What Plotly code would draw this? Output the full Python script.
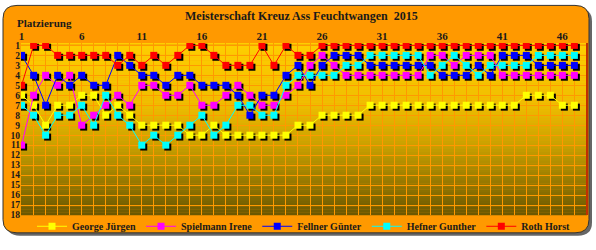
import plotly.graph_objects as go

# ---------------- data ----------------
races = list(range(1, 48))
x_tick_vals = [1, 6, 11, 16, 21, 26, 31, 36, 41, 46]
y_tick_vals = list(range(1, 19))

names = ["George Jürgen", "Spielmann Irene", "Fellner Günter", "Hefner Gunther", "Roth Horst"]
colors = ["#FFFF00", "#FF00FF", "#0000FF", "#00FFFF", "#FF0000"]

george = [6, 7, 9, 7, 7, 6, 6, 8, 7, 8, 9, 9, 9, 9, 10,
          10, 9, 10, 10, 10, 10, 10, 10, 9, 9, 8, 8, 8, 8, 7, 7,
          7, 7, 7, 7, 7, 7, 7, 7, 7, 7, 7, 6, 6, 6, 7, 7]
spielmann = [11, 6, 4, 5, 4, 9, 8, 7, 6, 7, 5, 5, 6, 6, 5,
             7, 7, 6, 5, 6, 7, 7, 6, 5, 3, 2, 3, 4, 4, 4, 4,
             4, 4, 4, 2, 2, 3, 2, 2, 2, 4, 4, 4, 4, 4, 4, 4]
fellner = [2, 4, 7, 4, 5, 4, 5, 5, 2, 3, 4, 4, 5, 4, 4,
           5, 5, 5, 6, 8, 6, 6, 4, 3, 5, 3, 2, 2, 2, 3, 3,
           3, 3, 3, 3, 4, 4, 4, 3, 4, 2, 2, 2, 3, 3, 3, 3]
hefner = [7, 8, 10, 8, 8, 7, 9, 6, 8, 9, 11, 10, 11, 10, 9,
          8, 10, 9, 7, 7, 8, 8, 5, 4, 4, 4, 4, 3, 3, 2, 2,
          2, 2, 2, 4, 3, 2, 3, 4, 3, 3, 3, 3, 2, 2, 2, 2]
roth = [5, 1, 1, 2, 2, 2, 2, 2, 3, 2, 3, 2, 3, 2, 1,
        1, 2, 3, 3, 3, 1, 3, 1, 2, 2, 1, 1, 1, 1, 1, 1,
        1, 1, 1, 1, 1, 1, 1, 1, 1, 1, 1, 1, 1, 1, 1, 1]
series = [george, spielmann, fellner, hefner, roth]

# ---------------- geometry / style ----------------
W, H = 596, 250
ML, MR, MT, MB = 21, 9, 43, 24
PW, PH = W - ML - MR, H - MT - MB
xr = [0.95, 48.05]
yr = [18, 0.76]
ppx = PW / (xr[1] - xr[0])
ppy = PH / (yr[0] - yr[1])
SH = 2  # shadow offset in px
dx, dy = SH / ppx, SH / ppy

FONT = "Liberation Serif, Times New Roman, serif"
TXT = "#1a1a1a"
GRID = "#FF9900"


def px(x):
    return (x - ML) / PW


def py(y):
    return (H - MB - y) / PH


def rounded(x0, y0, x1, y1, r):
    pts = [
        f"M {px(x0 + r)} {py(y0)}",
        f"L {px(x1 - r)} {py(y0)}",
        f"Q {px(x1)} {py(y0)} {px(x1)} {py(y0 + r)}",
        f"L {px(x1)} {py(y1 - r)}",
        f"Q {px(x1)} {py(y1)} {px(x1 - r)} {py(y1)}",
        f"L {px(x0 + r)} {py(y1)}",
        f"Q {px(x0)} {py(y1)} {px(x0)} {py(y1 - r)}",
        f"L {px(x0)} {py(y0 + r)}",
        f"Q {px(x0)} {py(y0)} {px(x0 + r)} {py(y0)}",
        "Z",
    ]
    return " ".join(pts)


shapes = []
# outer card shadow + card
shapes.append(dict(type="path", xref="paper", yref="paper", path=rounded(6, 6, 592, 248, 14),
                   fillcolor="#666666", line=dict(width=0), layer="below"))
shapes.append(dict(type="path", xref="paper", yref="paper", path=rounded(3, 3, 589, 245, 14),
                   fillcolor="#FF9900", line=dict(color="#333333", width=1), layer="below"))

# vertical gradient of the plot area
stops = [(0.0, (255, 206, 0)), (0.35, (240, 190, 0)), (0.6, (200, 160, 0)), (1.0, (105, 86, 0))]


def grad(t):
    for (t0, c0), (t1, c1) in zip(stops[:-1], stops[1:]):
        if t0 <= t <= t1:
            f = (t - t0) / (t1 - t0)
            return "rgb(%d,%d,%d)" % tuple(round(a + (b - a) * f) for a, b in zip(c0, c1))
    return "rgb(%d,%d,%d)" % stops[-1][1]


N = 60
for i in range(N):
    t = (i + 0.5) / N
    shapes.append(dict(type="rect", xref="paper", yref="paper", x0=0, x1=1,
                       y0=1 - (i + 1) / N - 0.002, y1=1 - i / N,
                       fillcolor=grad(t), line=dict(width=0), layer="below"))

# dark red line on rank 1 and right border
shapes.append(dict(type="line", xref="paper", yref="y", x0=0, x1=1, y0=1, y1=1,
                   line=dict(color="#B00000", width=1), layer="between"))
shapes.append(dict(type="line", xref="paper", yref="paper", x0=1, x1=1, y0=0, y1=1,
                   line=dict(color="#C03000", width=2), layer="above"))

fig = go.Figure()

# shadows
for s in series:
    fig.add_trace(go.Scatter(x=races, y=s, mode="markers", xaxis="x2", yaxis="y2",
                             marker=dict(symbol="square", size=7, color="#000000", line=dict(width=0)),
                             showlegend=False, hoverinfo="skip"))
# series
for n, c, s in zip(names, colors, series):
    fig.add_trace(go.Scatter(x=races, y=s, mode="lines+markers", name=n, xaxis="x3", yaxis="y3",
                             line=dict(color=c, width=1),
                             marker=dict(symbol="square", size=7, color=c, line=dict(width=0))))

xtickfont = dict(family=FONT, size=11, color=TXT, weight="bold")
ytickfont = dict(family=FONT, size=9.5, color=TXT, weight="bold")

fig.update_layout(
    width=W, height=H,
    margin=dict(l=ML, r=MR, t=MT, b=MB, pad=0),
    paper_bgcolor="white",
    plot_bgcolor="rgba(0,0,0,0)",
    shapes=shapes,
    showlegend=True,
    legend=dict(orientation="h", x=0.5, xanchor="center", y=py(238), yanchor="middle",
                font=dict(family=FONT, size=10, color=TXT, weight="bold"),
                bgcolor="rgba(0,0,0,0)", itemwidth=30, tracegroupgap=0),
    xaxis=dict(range=xr, side="top", tickvals=x_tick_vals, ticktext=[str(v) for v in x_tick_vals],
               showgrid=True, gridcolor=GRID, gridwidth=1, zeroline=False, showline=False,
               ticks="", tickfont=xtickfont, fixedrange=True,
               minor=dict(dtick=1, tick0=1, showgrid=True, gridcolor=GRID, gridwidth=1)),
    yaxis=dict(range=yr, tickvals=y_tick_vals, ticktext=[str(v) for v in y_tick_vals],
               showgrid=True, gridcolor=GRID, gridwidth=1, zeroline=False, showline=False,
               ticks="", tickfont=ytickfont, fixedrange=True),
    xaxis2=dict(range=[xr[0] - dx, xr[1] - dx], overlaying="x", visible=False),
    yaxis2=dict(range=[yr[0] - dy, yr[1] - dy], overlaying="y", visible=False),
    xaxis3=dict(range=xr, overlaying="x", visible=False),
    yaxis3=dict(range=yr, overlaying="y", visible=False),
    annotations=[
        dict(text="Meisterschaft Kreuz Ass Feuchtwangen&nbsp;&nbsp;2015", xref="paper", yref="paper",
             x=px(301), y=py(14), xanchor="center", yanchor="middle", showarrow=False,
             font=dict(family=FONT, size=12, color=TXT, weight="bold")),
        dict(text="Platzierung", xref="paper", yref="paper",
             x=px(15), y=py(21.5), xanchor="left", yanchor="middle", showarrow=False,
             font=dict(family=FONT, size=11, color=TXT, weight="bold")),
    ],
)

fig.write_html("out.html")
